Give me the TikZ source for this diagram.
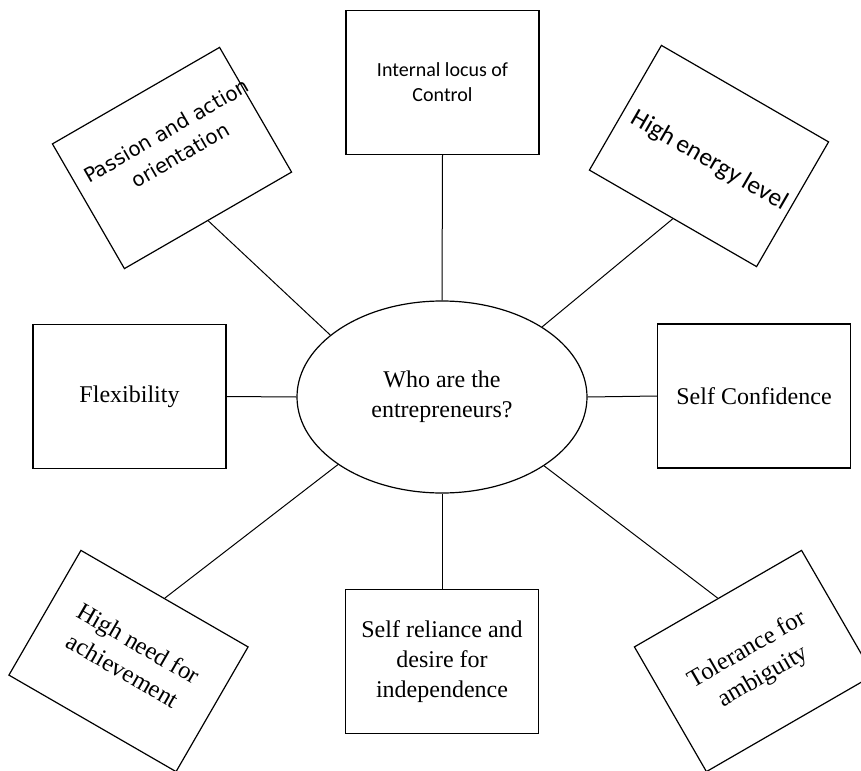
\documentclass[tikz,border=0pt]{standalone}
\usepackage{fontspec}
\setmainfont{Liberation Serif}
\newfontfamily\calibrifnt{Carlito}
\newfontfamily\verdanafnt{DejaVu Sans}
\usetikzlibrary{shapes.geometric}
\begin{document}
\begin{tikzpicture}[x=0.75pt,y=-0.75pt,
  box/.style={draw, line width=0.9pt, minimum width=144.75pt, minimum height=108pt, inner sep=0pt, align=center},
  txt/.style={inner sep=0pt, align=center},
  conn/.style={line width=0.75pt},
  tnr/.style={font=\fontsize{18pt}{22.5pt}\selectfont},
  tnrb/.style={font=\fontsize{18.5pt}{23.5pt}\selectfont},
  calA/.style={font=\calibrifnt\fontsize{15pt}{18.75pt}\selectfont},
  calB/.style={font=\calibrifnt\fontsize{19pt}{23pt}\selectfont},
  verd/.style={font=\verdanafnt\fontsize{15pt}{21pt}\selectfont}]
\useasboundingbox (0,0) rectangle (861,771);

% centre
\node[draw, ellipse, line width=0.9pt, minimum width=217.5pt, minimum height=144pt, inner sep=0pt, align=center, tnr] (ell) at (442,397) {Who are the\\entrepreneurs?};

% straight boxes
\node[box, calA] (ilc) at (442.5,82.5) {Internal locus of\\Control};
\node[box, tnr] (flex) at (129.5,396.5) {Flexibility};
\node[box, tnr] (conf) at (754,396) {Self Confidence};
\node[box, tnr] (rel) at (442,661.5) {Self reliance and\\desire for\\independence};

% rotated boxes
\begin{scope}[shift={(172,158)}, rotate=30, transform shape]
  \node[box] (pas) at (0,0) {};
  \node[txt, verd] (pastxt) at (8.5,-12.5) {Passion and action\\orientation};
\end{scope}
\begin{scope}[shift={(709,156)}, rotate=-30, transform shape]
  \node[box] (hel) at (0,0) {};
  \node[txt, calB, anchor=base] (heltxt) at (2.6,10.6) {High energy level};
\end{scope}
\begin{scope}[shift={(128.5,661)}, rotate=-30, transform shape]
  \node[box] (hna) at (0,0) {};
  \node[txt, tnrb] (hnatxt) at (0,-5) {High need for\\achievement};
\end{scope}
\begin{scope}[shift={(754,661)}, rotate=30, transform shape]
  \node[box] (tol) at (0,0) {};
  \node[txt, tnrb] (toltxt) at (0,3) {Tolerance for\\ambiguity};
\end{scope}

% connectors
\draw[conn] (ilc.south) -- (ell.north);
\draw[conn] (flex.east) -- (ell.west);
\draw[conn] (conf.west) -- (ell.east);
\draw[conn] (rel.north) -- (ell.south);
\draw[conn] (pas.south) -- (ell.151);
\draw[conn] (hel.south) -- (ell.35);
\draw[conn] (hna.north) -- (ell.213);
\draw[conn] (tol.north) -- (ell.326);
\end{tikzpicture}
\end{document}
